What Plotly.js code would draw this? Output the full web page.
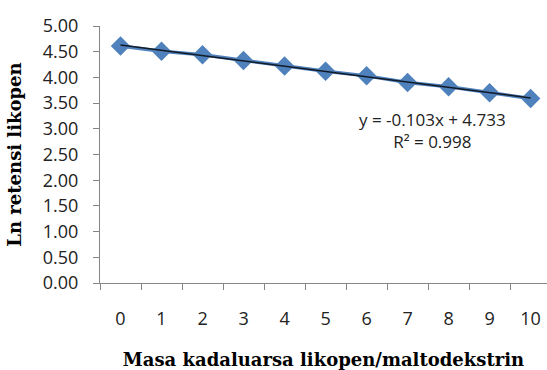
<!DOCTYPE html>
<html>
<head>
<meta charset="utf-8">
<script src="https://cdn.plot.ly/plotly-3.0.1.min.js"></script>
<style>html,body{margin:0;padding:0;background:#fff;}#chart{width:547px;height:370px;}</style>
</head>
<body>
<div id="chart"></div>
<script>
const categories = ['0','1','2','3','4','5','6','7','8','9','10'];
const lnRetensi = [4.61, 4.51, 4.44, 4.33, 4.22, 4.12, 4.03, 3.90, 3.82, 3.70, 3.59];
const trendSlope = -0.103;
const trendIntercept = 4.733;
const yTickVals = [0, 0.5, 1, 1.5, 2, 2.5, 3, 3.5, 4, 4.5, 5];
const yTickText = ['0.00','0.50','1.00','1.50','2.00','2.50','3.00','3.50','4.00','4.50','5.00'];
const equationLines = ['y = -0.103x + 4.733', 'R² = 0.998'];
const xTitle = 'Masa kadaluarsa likopen/maltodekstrin';
const yTitle = 'Ln retensi likopen';

// Excel trendline on a line chart uses x = 1..n
const trendX = [categories[0], categories[categories.length-1]];
const trendY = [trendIntercept + trendSlope*1, trendIntercept + trendSlope*categories.length];

const tickFont = {family: '"Open Sans", sans-serif', size: 18, color: '#222'};
const titleFont = {family: '"DejaVu Serif", serif', size: 18, color: '#000', weight: 'bold'};
const eqFont = {family: '"Open Sans", sans-serif', size: 17, color: '#222'};

const data = [
  {x: categories, y: lnRetensi, type: 'scatter', mode: 'lines+markers',
   line: {color: '#4F81BD', width: 3.5},
   marker: {symbol: 'diamond', size: 15, color: '#4F81BD'},
   hoverinfo: 'skip', showlegend: false},
  {x: trendX, y: trendY, type: 'scatter', mode: 'lines',
   line: {color: '#111a26', width: 1.6},
   hoverinfo: 'skip', showlegend: false}
];

const layout = {
  width: 547, height: 370,
  margin: {l: 100, r: 0, t: 26, b: 87},
  paper_bgcolor: '#fff', plot_bgcolor: '#fff',
  showlegend: false,
  xaxis: {
    type: 'category', range: [-0.5, 10.4], tickson: 'boundaries',
    ticks: 'outside', ticklen: 6, tickcolor: '#868686', tickwidth: 1,
    showline: true, linecolor: '#868686', linewidth: 1,
    showgrid: false, zeroline: false,
    tickfont: tickFont, ticklabelstandoff: 19,
    title: {text: xTitle, font: titleFont, standoff: 24},
    automargin: false, fixedrange: true
  },
  yaxis: {
    range: [0, 5], tickvals: yTickVals, ticktext: yTickText,
    ticks: 'outside', ticklen: 6, tickcolor: '#868686', tickwidth: 1,
    showline: true, linecolor: '#868686', linewidth: 1,
    showgrid: false, zeroline: false,
    tickfont: tickFont, ticklabelstandoff: 11,
    title: {text: yTitle, font: titleFont, standoff: 16},
    automargin: false, fixedrange: true
  },
  annotations: [
    {text: equationLines.join('<br>'), xref: 'paper', yref: 'paper',
     x: 0.743, y: 0.594, xanchor: 'center', yanchor: 'middle', align: 'center',
     showarrow: false, font: eqFont}
  ]
};

Plotly.newPlot('chart', data, layout, {displayModeBar: false, staticPlot: true});
</script>
</body>
</html>
